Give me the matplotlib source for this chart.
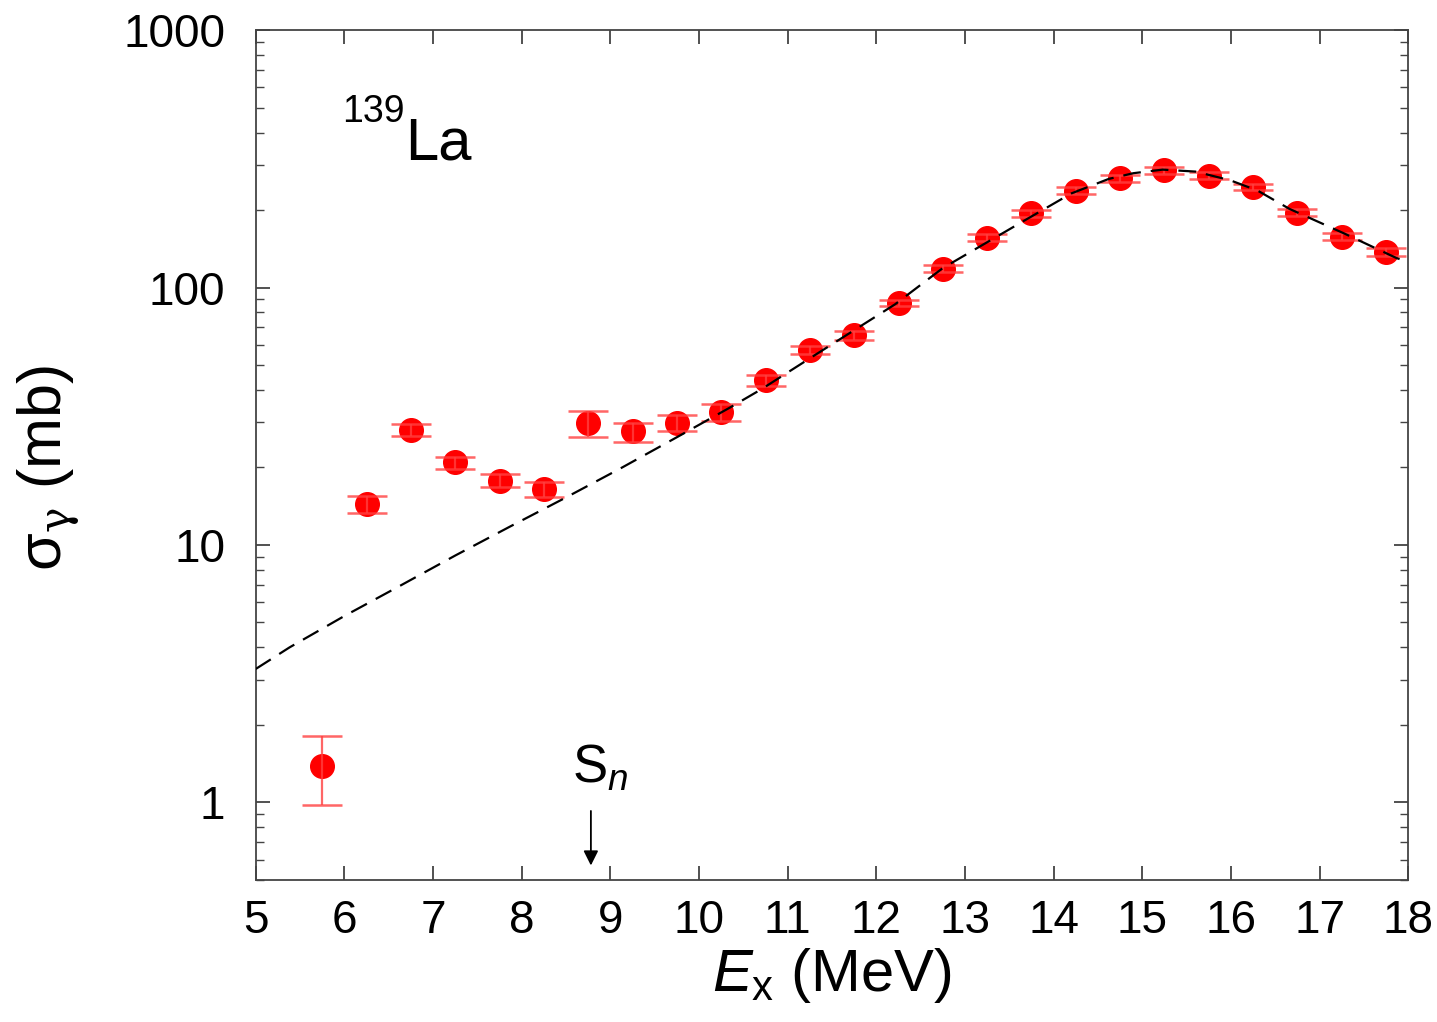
import matplotlib
matplotlib.use("Agg")
import matplotlib.pyplot as plt
from matplotlib.ticker import LogLocator, NullFormatter, FixedLocator, FixedFormatter

plt.rcParams['font.family'] = ['Liberation Sans', 'DejaVu Sans']
plt.rcParams['mathtext.fontset'] = 'custom'
plt.rcParams['mathtext.rm'] = 'Liberation Sans'
plt.rcParams['mathtext.it'] = 'Liberation Sans:italic'
plt.rcParams['mathtext.sf'] = 'DejaVu Serif'

# measured photoabsorption data, 139La
energy = [5.75, 6.25, 6.75, 7.25, 7.75, 8.25, 8.75, 9.25, 9.75, 10.25,
          10.75, 11.25, 11.75, 12.25, 12.75, 13.25, 13.75, 14.25, 14.75,
          15.25, 15.75, 16.25, 16.75, 17.25, 17.75]
sigma = [1.39, 14.4, 27.9, 21.0, 17.7, 16.5, 29.7, 27.6, 29.8, 32.8,
         43.6, 57.3, 65.2, 86.7, 118.5, 156.0, 194.5, 237.7, 265.5,
         285.0, 272.0, 246.0, 195.0, 157.7, 137.0]
err_up = [0.42, 1.1, 1.5, 1.0, 1.1, 1.0, 3.3, 2.3, 2.2, 2.6,
          2.1, 1.9, 2.5, 2.6, 4.0, 5.0, 6.0, 7.0, 8.0,
          8.0, 8.0, 7.5, 6.0, 5.0, 5.0]
err_lo = [0.41, 1.1, 1.5, 1.2, 0.9, 1.1, 3.4, 2.5, 2.2, 2.6,
          2.1, 2.1, 2.7, 2.1, 4.0, 5.0, 6.0, 7.0, 8.0,
          8.0, 8.0, 7.5, 6.0, 5.0, 5.0]

# dashed model curve
curve_e = [5.0, 5.38, 6.0, 6.63, 7.25, 7.87, 8.5, 9.11, 9.74, 10.35, 10.7,
           11.32, 12.21, 12.75, 13.67, 14.2, 14.62, 14.9, 15.23, 15.6, 15.99,
           16.3, 16.66, 17.28, 17.87, 18.0]
curve_s = [3.3, 4.0, 5.3, 6.95, 9.1, 11.8, 15.3, 19.8, 26.1, 34.2, 40.2,
           55.0, 86.0, 119.0, 182.0, 232.0, 264.0, 278.0, 287.0, 282.0, 261.0,
           238.0, 202.0, 162.0, 130.0, 126.0]

sn_energy = 8.78

fig = plt.figure(figsize=(14.37, 10.22), dpi=100)
ax = fig.add_axes([0.178, 0.139, 0.802, 0.8316])

ax.plot(energy, sigma, 'o', color='red', markersize=17, zorder=2)
ax.errorbar(energy, sigma, yerr=[err_lo, err_up], fmt='none',
            ecolor=(1, 0.25, 0.25, 0.8), elinewidth=1.6, capsize=14.5,
            capthick=1.8, zorder=3)
ax.plot(curve_e, curve_s, color='black', linestyle=(0, (8, 4.5)),
        linewidth=1.6, zorder=4)

ax.set_yscale('log')
ax.set_xlim(5, 18)
ax.set_ylim(0.5, 1000)
ax.xaxis.set_major_locator(FixedLocator(range(5, 19)))
ax.yaxis.set_major_locator(FixedLocator([1, 10, 100, 1000]))
ax.yaxis.set_major_formatter(FixedFormatter(['1', '10', '100', '1000']))
ax.yaxis.set_minor_locator(LogLocator(base=10, subs=range(2, 10)))
ax.yaxis.set_minor_formatter(NullFormatter())

ax.tick_params(which='major', direction='in', length=10, width=1.2,
               top=True, right=True, labelsize=33, color='#333333')
ax.tick_params(axis='x', pad=14)
ax.tick_params(axis='y', pad=22)
ax.tick_params(which='minor', direction='in', length=6, width=1.0,
               right=True, color='#444444')
for s in ax.spines.values():
    s.set_color('#444444')
    s.set_linewidth(1.3)

ax.set_xlabel(r'$E_{\rm x}$ (MeV)', fontsize=43, labelpad=2)
ax.set_ylabel(r'σ$_\mathsf{γ}$ (mb)', fontsize=44)
ax.yaxis.set_label_coords(-0.151, 0.485)

ax.text(5.97, 440, '139', fontsize=27, ha='left', va='baseline')
ax.text(6.68, 313, 'La', fontsize=43, ha='left', va='baseline')

ax.annotate('', xy=(sn_energy, 0.555), xytext=(sn_energy, 0.95),
            arrowprops=dict(arrowstyle='-|>', color='black', lw=1.3,
                            mutation_scale=22))
ax.text(sn_energy + 0.1, 1.08, r'S$_{\it n}$', fontsize=38, ha='center',
        va='bottom')

fig.savefig('out.png', dpi=100)
